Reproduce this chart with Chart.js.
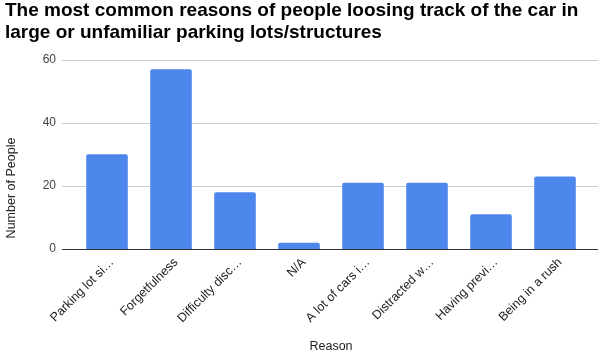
<!DOCTYPE html>
<html>
<head>
<meta charset="utf-8">
<script src="https://cdn.jsdelivr.net/npm/chart.js@4"></script>
<style>
  html, body { margin: 0; padding: 0; background: #fff; }
  #wrap { width: 601px; height: 354px; }
</style>
</head>
<body>
<div id="wrap"><canvas id="chart" width="601" height="354"></canvas></div>
<script>
// --- chart data ---
const TITLE_LINES = [
  'The most common reasons of people loosing track of the car in',
  'large or unfamiliar parking lots/structures'
];
const reasons = [
  'Parking lot si\u2026',
  'Forgetfulness',
  'Difficulty disc\u2026',
  'N/A',
  'A lot of cars i\u2026',
  'Distracted w\u2026',
  'Having previ\u2026',
  'Being in a rush'
];
const people = [30, 57, 18, 2, 21, 21, 11, 23];
const yTicks = [0, 20, 40, 60];
const Y_TITLE = 'Number of People';

const BAR_BLUE = '#4e87ec';
const GRID = '#cccccc';
const FONT = 'Arial, "Liberation Sans"';

// gridlines run a bit wider than the category band, like the original
const wideGrid = {
  id: 'wideGrid',
  beforeDatasetsDraw(chart) {
    const { ctx, chartArea, scales } = chart;
    const y = scales.y;
    ctx.save();
    yTicks.forEach(v => {
      const py = Math.round(y.getPixelForValue(v)) + 0.5;
      ctx.strokeStyle = v === 0 ? '#333333' : GRID;
      ctx.lineWidth = 1;
      ctx.beginPath();
      ctx.moveTo(chartArea.left - 13, py);
      ctx.lineTo(chartArea.right + 11, py);
      ctx.stroke();
    });
    ctx.restore();
  }
};

// y-axis title sits lower than the plot centre in the original
const yTitle = {
  id: 'yTitle',
  afterDraw(chart) {
    const { ctx } = chart;
    ctx.save();
    ctx.translate(12, 188);
    ctx.rotate(-Math.PI / 2);
    ctx.font = '12.5px ' + FONT;
    ctx.fillStyle = '#222222';
    ctx.textAlign = 'center';
    ctx.textBaseline = 'middle';
    ctx.fillText(Y_TITLE, 0, 0);
    ctx.restore();
  }
};

const ctx = document.getElementById('chart').getContext('2d');
new Chart(ctx, {
  type: 'bar',
  data: {
    labels: reasons,
    datasets: [{
      label: Y_TITLE,
      data: people,
      backgroundColor: BAR_BLUE,
      borderRadius: { topLeft: 2, topRight: 2 },
      borderSkipped: 'bottom',
      categoryPercentage: 1.0,
      barPercentage: 0.65
    }]
  },
  options: {
    responsive: false,
    animation: false,
    layout: { padding: { left: 5, right: 14, top: 0, bottom: 0 } },
    plugins: {
      legend: { display: false },
      tooltip: { enabled: false },
      title: {
        display: true,
        text: TITLE_LINES,
        align: 'start',
        color: '#000000',
        font: { family: FONT, size: 19, weight: 'bold', lineHeight: 1.15 },
        padding: { top: 0, bottom: 16 }
      }
    },
    scales: {
      x: {
        grid: { display: false, drawTicks: false },
        border: { display: false },
        ticks: {
          color: '#222222',
          font: { family: FONT, size: 12.5 },
          minRotation: 45,
          maxRotation: 45,
          autoSkip: false,
          padding: 6,
          labelOffset: 5
        },
        title: {
          display: true,
          text: 'Reason',
          color: '#222222',
          font: { family: FONT, size: 12.5 },
          padding: { top: 0, bottom: 0 }
        },
        afterFit(scale) { scale.height = 105; }
      },
      y: {
        min: 0,
        max: 60,
        grid: { display: false, drawTicks: false },
        border: { display: false },
        afterBuildTicks(scale) { scale.ticks = yTicks.map(v => ({ value: v })); },
        ticks: {
          color: '#444444',
          font: { family: FONT, size: 12 },
          padding: 19
        },
        title: { display: false },
        afterFit(scale) { scale.width = 70; }
      }
    }
  },
  plugins: [wideGrid, yTitle]
});
</script>
</body>
</html>
